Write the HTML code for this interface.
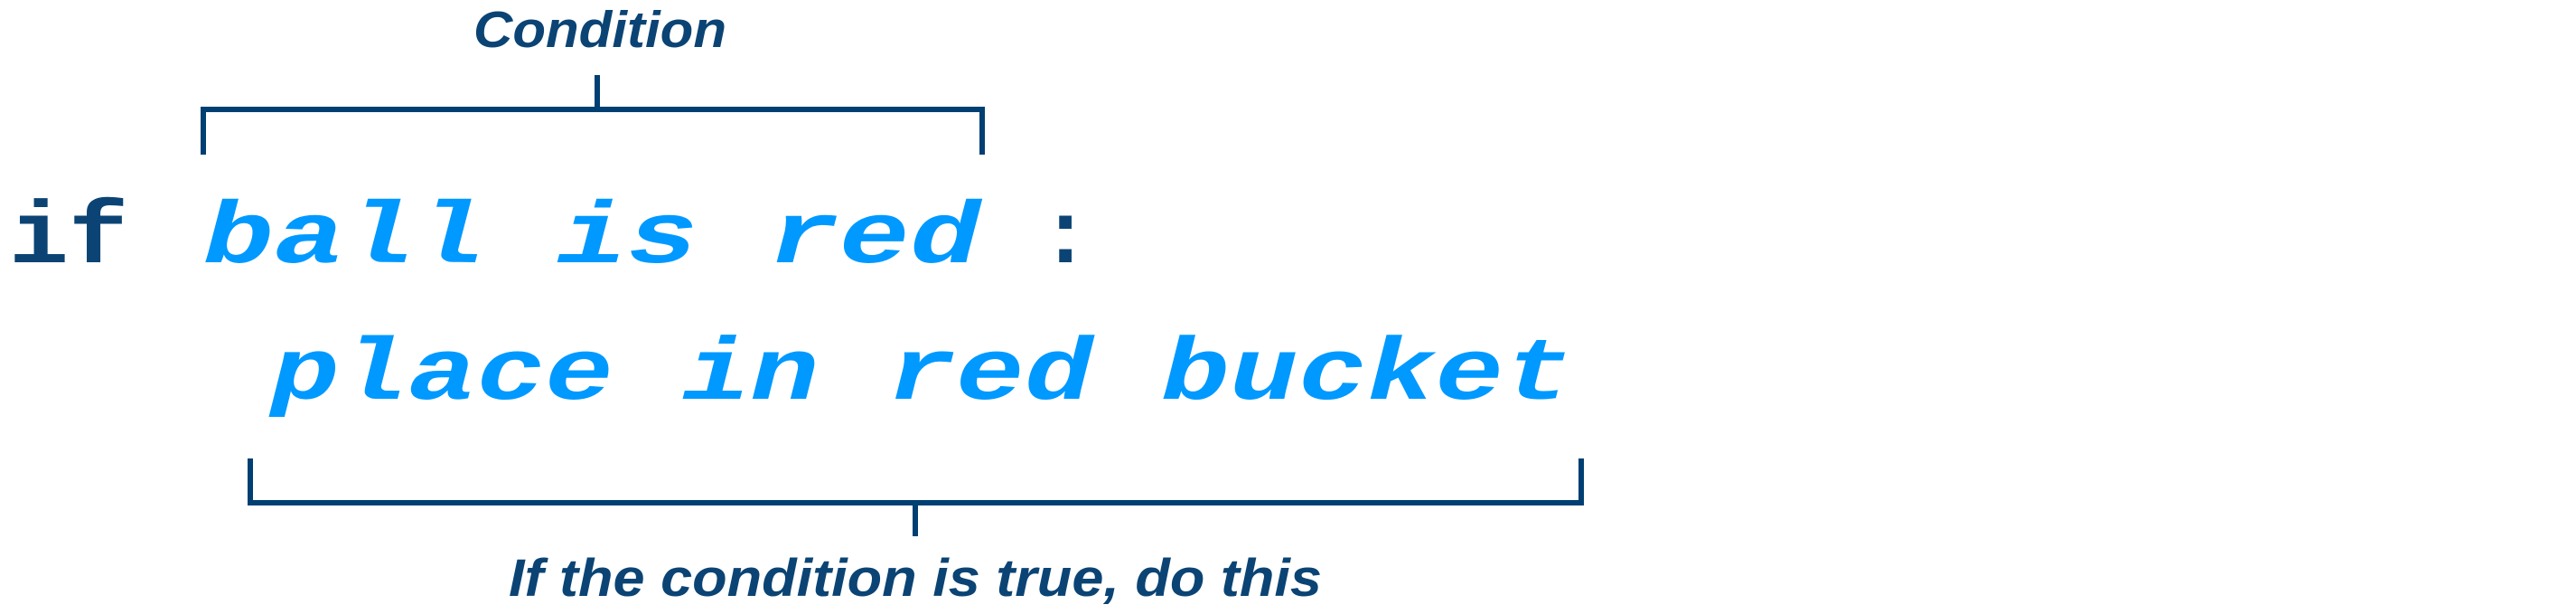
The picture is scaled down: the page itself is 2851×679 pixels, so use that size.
<!DOCTYPE html>
<html><head><meta charset="utf-8"><style>
html,body{margin:0;padding:0;background:#fff;}
svg{display:block;}
</style></head><body>
<svg width="2851" height="679" viewBox="0 0 2851 679" xmlns="http://www.w3.org/2000/svg">
<rect width="2851" height="679" fill="#fff"/>
<g font-family="'Liberation Mono', monospace" font-weight="bold" font-size="97">
<text x="10" y="290" fill="#0b4474" textLength="132" lengthAdjust="spacingAndGlyphs">if</text>
<text x="225" y="290" fill="#0099ff" font-style="italic" textLength="860" lengthAdjust="spacingAndGlyphs">ball is red</text>
<text x="1150" y="290" fill="#0b4474">:</text>
<text x="300" y="441" fill="#0099ff" font-style="italic" textLength="1440" lengthAdjust="spacingAndGlyphs">place in red bucket</text>
</g>
<g font-family="'Liberation Sans', sans-serif" font-weight="bold" font-style="italic" fill="#0b4474">
<text x="524" y="52" font-size="57" textLength="280" lengthAdjust="spacingAndGlyphs">Condition</text>
<text x="563" y="659" font-size="58" textLength="900" lengthAdjust="spacingAndGlyphs">If the condition is true, do this</text>
</g>
<g stroke="#003f72" stroke-width="6" fill="none">
<polyline points="225,171 225,121 1087,121 1087,171"/>
<line x1="661" y1="83" x2="661" y2="121"/>
<polyline points="277,507 277,556 1750,556 1750,507"/>
<line x1="1013" y1="556" x2="1013" y2="593"/>
</g>
</svg>
</body></html>
